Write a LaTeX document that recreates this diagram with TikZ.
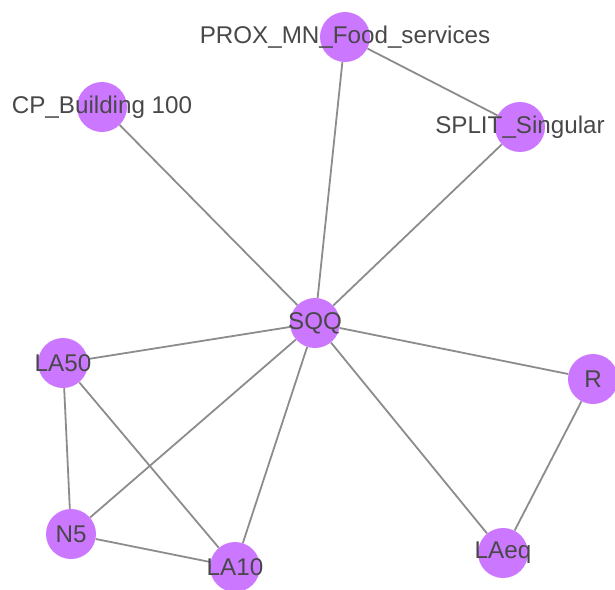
\documentclass[tikz,border=0pt]{standalone}
\usepackage{fontspec}
\setmainfont{Liberation Sans}
\usetikzlibrary{backgrounds}
\definecolor{nodelila}{RGB}{204,119,255}
\definecolor{edgegray}{RGB}{140,140,140}
\definecolor{textgray}{RGB}{72,72,72}
\begin{document}
\begin{tikzpicture}[x=1pt,y=-1pt,
  vertex/.style={circle,fill=nodelila,draw=none,minimum size=50pt,inner sep=0pt},
  lbl/.style={text=textgray,font=\fontsize{24.2}{28}\selectfont,inner sep=0pt},
  edge/.style={edgegray,line width=1.8pt}]

\useasboundingbox (0,0) rectangle (615,589);

% --- Nodi ---
\node[vertex,label={[lbl]center:PROX\_MN\_Food\_services}] (prox)  at (345,37)  {};
\node[vertex,label={[lbl]center:CP\_Building 100}]         (cp)    at (102,107) {};
\node[vertex,label={[lbl]center:SPLIT\_Singular}]          (split) at (520,127) {};
\node[vertex,label={[lbl]center:SQQ}]                      (sqq)   at (315,323) {};
\node[vertex,label={[lbl]center:LA50}]                     (la50)  at (63,363)  {};
\node[vertex,label={[lbl]center:R}]                        (r)     at (593,379) {};
\node[vertex,label={[lbl]center:N5}]                       (n5)    at (71,534)  {};
\node[vertex,label={[lbl]center:LA10}]                     (la10)  at (235,567) {};
\node[vertex,label={[lbl]center:LAeq}]                     (laeq)  at (503,553) {};

% --- Archi ---
\begin{pgfonlayer}{background}
\draw[edge] (prox) -- (split);
\draw[edge] (prox) -- (sqq);
\draw[edge] (cp) -- (sqq);
\draw[edge] (split) -- (sqq);
\draw[edge] (sqq) -- (la50);
\draw[edge] (sqq) -- (r);
\draw[edge] (sqq) -- (n5);
\draw[edge] (sqq) -- (la10);
\draw[edge] (sqq) -- (laeq);
\draw[edge] (r) -- (laeq);
\draw[edge] (la50) -- (n5);
\draw[edge] (la50) -- (la10);
\draw[edge] (n5) -- (la10);
\end{pgfonlayer}

\end{tikzpicture}
\end{document}
